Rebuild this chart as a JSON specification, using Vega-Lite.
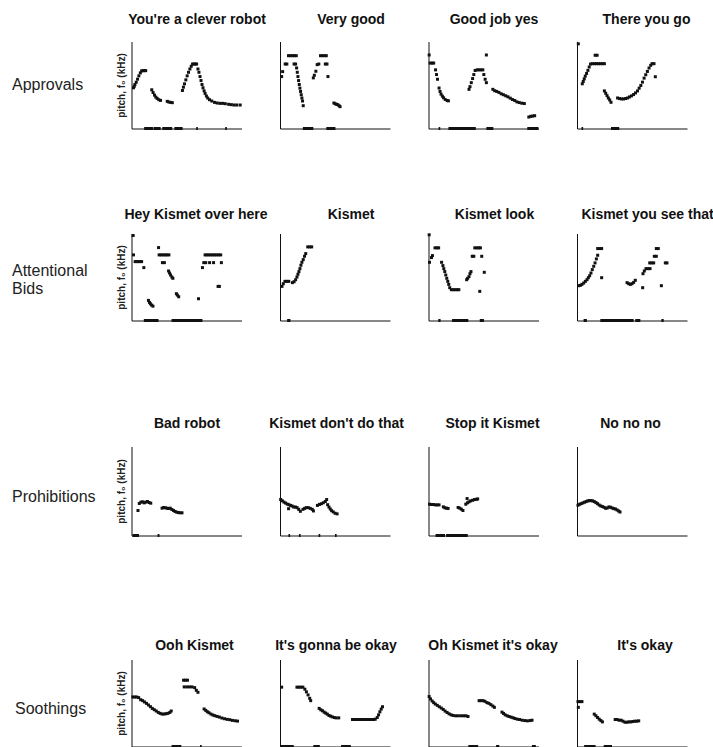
{
"$schema": "https://vega.github.io/schema/vega-lite/v6.json",
"background": "white",
"padding": {"left": 12, "top": 12.5, "right": 5, "bottom": 0},
"bounds": "full",
"spacing": 77,
"config": {
 "font": "Liberation Sans",
 "view": {"stroke": null},
 "axis": {"labels": false, "ticks": false, "grid": false, "domainColor": "#111", "domainWidth": 1, "titleFont": "Liberation Sans", "titleFontSize": 10, "titleFontWeight": "bold", "titleColor": "#222", "titlePadding": 5},
 "title": {"fontSize": 14, "fontWeight": "bold", "color": "#111", "frame": "group", "anchor": "middle", "font": "Liberation Sans"}
},
"datasets": {
"pitch": [
{"p":"a1","x":1.8,"y":46.8},{"p":"a1","x":2.5,"y":48.5},{"p":"a1","x":3.1,"y":50.6},{"p":"a1","x":4.3,"y":53.2},{"p":"a1","x":5.5,"y":56.7},{"p":"a1","x":6.7,"y":60.5},{"p":"a1","x":8.0,"y":63.9},{"p":"a1","x":9.2,"y":66.2},{"p":"a1","x":10.4,"y":66.5},{"p":"a1","x":11.7,"y":66.5},{"p":"a1","x":12.9,"y":66.5},
{"p":"a1","x":18.4,"y":44.5},{"p":"a1","x":19.6,"y":41.4},{"p":"a1","x":20.9,"y":38.4},{"p":"a1","x":22.1,"y":36.1},{"p":"a1","x":23.3,"y":34.6},{"p":"a1","x":24.8,"y":33.1},{"p":"a1","x":26.4,"y":32.3},
{"p":"a1","x":32.5,"y":31.2},{"p":"a1","x":34.0,"y":30.4},{"p":"a1","x":35.6,"y":30.0},{"p":"a1","x":37.1,"y":29.7},
{"p":"a1","x":46.3,"y":43.7},{"p":"a1","x":47.2,"y":47.5},{"p":"a1","x":48.2,"y":51.3},{"p":"a1","x":49.4,"y":55.9},{"p":"a1","x":50.6,"y":60.5},{"p":"a1","x":51.8,"y":64.6},{"p":"a1","x":53.1,"y":68.4},{"p":"a1","x":54.3,"y":71.5},{"p":"a1","x":55.5,"y":74.1},{"p":"a1","x":56.7,"y":74.1},{"p":"a1","x":58.0,"y":74.1},{"p":"a1","x":59.2,"y":74.1},{"p":"a1","x":60.4,"y":68.4},{"p":"a1","x":61.3,"y":64.6},{"p":"a1","x":62.3,"y":59.7},{"p":"a1","x":63.2,"y":55.1},{"p":"a1","x":64.1,"y":50.6},{"p":"a1","x":65.0,"y":46.8},{"p":"a1","x":66.0,"y":43.3},{"p":"a1","x":66.9,"y":40.3},{"p":"a1","x":68.1,"y":37.3},{"p":"a1","x":69.3,"y":35.0},{"p":"a1","x":70.9,"y":33.1},{"p":"a1","x":73.0,"y":31.6},{"p":"a1","x":75.5,"y":30.0},{"p":"a1","x":77.9,"y":29.3},{"p":"a1","x":80.4,"y":28.9},{"p":"a1","x":82.8,"y":28.9},{"p":"a1","x":85.3,"y":28.5},{"p":"a1","x":88.3,"y":27.8},{"p":"a1","x":90.8,"y":27.4},{"p":"a1","x":93.3,"y":27.0},{"p":"a1","x":95.7,"y":27.0},{"p":"a1","x":98.8,"y":27.0},
{"p":"a2","x":1.5,"y":59.7},{"p":"a2","x":2.4,"y":65.4},{"p":"a2","x":4.7,"y":74.1},{"p":"a2","x":6.2,"y":74.1},{"p":"a2","x":7.7,"y":83.7},{"p":"a2","x":9.5,"y":83.7},{"p":"a2","x":11.3,"y":83.7},{"p":"a2","x":13.1,"y":83.7},{"p":"a2","x":14.8,"y":83.7},{"p":"a2","x":12.8,"y":74.1},{"p":"a2","x":14.2,"y":74.1},{"p":"a2","x":15.1,"y":69.6},{"p":"a2","x":15.7,"y":64.6},{"p":"a2","x":16.3,"y":59.7},{"p":"a2","x":16.9,"y":55.1},{"p":"a2","x":17.5,"y":50.6},{"p":"a2","x":18.1,"y":46.4},{"p":"a2","x":18.7,"y":42.6},{"p":"a2","x":19.3,"y":38.8},{"p":"a2","x":19.9,"y":35.0},{"p":"a2","x":20.5,"y":31.6},{"p":"a2","x":21.1,"y":26.2},
{"p":"a2","x":30.3,"y":58.2},{"p":"a2","x":31.2,"y":61.2},{"p":"a2","x":32.6,"y":65.8},{"p":"a2","x":33.8,"y":73.4},{"p":"a2","x":35.3,"y":74.1},{"p":"a2","x":36.8,"y":83.7},{"p":"a2","x":38.6,"y":83.7},{"p":"a2","x":40.4,"y":83.7},{"p":"a2","x":42.1,"y":83.7},{"p":"a2","x":41.2,"y":74.1},{"p":"a2","x":42.7,"y":74.1},{"p":"a2","x":43.6,"y":59.7},
{"p":"a2","x":49.0,"y":29.3},{"p":"a2","x":50.1,"y":28.5},{"p":"a2","x":51.3,"y":27.8},{"p":"a2","x":52.5,"y":27.4},{"p":"a2","x":53.7,"y":26.2},{"p":"a2","x":54.6,"y":25.1},
{"p":"a3","x":0.6,"y":84.5},{"p":"a3","x":1.5,"y":75.2},{"p":"a3","x":3.2,"y":75.2},{"p":"a3","x":4.7,"y":75.2},{"p":"a3","x":6.4,"y":67.4},{"p":"a3","x":7.3,"y":62.0},{"p":"a3","x":8.2,"y":56.6},{"p":"a3","x":9.6,"y":46.5},{"p":"a3","x":10.5,"y":42.6},{"p":"a3","x":11.4,"y":39.5},{"p":"a3","x":12.6,"y":37.2},{"p":"a3","x":13.7,"y":35.3},{"p":"a3","x":15.2,"y":33.3},{"p":"a3","x":17.0,"y":32.2},{"p":"a3","x":18.1,"y":31.8},
{"p":"a3","x":36.8,"y":45.0},{"p":"a3","x":37.7,"y":48.1},{"p":"a3","x":38.9,"y":52.7},{"p":"a3","x":40.1,"y":57.4},{"p":"a3","x":41.2,"y":62.0},{"p":"a3","x":42.4,"y":66.7},{"p":"a3","x":44.2,"y":67.4},{"p":"a3","x":45.9,"y":67.4},{"p":"a3","x":47.7,"y":67.4},{"p":"a3","x":49.4,"y":67.4},{"p":"a3","x":50.3,"y":62.0},{"p":"a3","x":51.5,"y":56.6},{"p":"a3","x":52.6,"y":52.7},{"p":"a3","x":52.6,"y":84.5},
{"p":"a3","x":58.5,"y":45.0},{"p":"a3","x":60.2,"y":43.4},{"p":"a3","x":62.0,"y":42.6},{"p":"a3","x":64.0,"y":41.5},{"p":"a3","x":66.1,"y":39.9},{"p":"a3","x":68.1,"y":38.8},{"p":"a3","x":70.2,"y":37.6},{"p":"a3","x":72.2,"y":36.4},{"p":"a3","x":74.3,"y":34.9},{"p":"a3","x":76.3,"y":33.3},{"p":"a3","x":78.4,"y":32.2},{"p":"a3","x":80.4,"y":30.6},{"p":"a3","x":82.5,"y":29.8},{"p":"a3","x":84.8,"y":29.1},{"p":"a3","x":87.1,"y":28.7},
{"p":"a3","x":91.2,"y":13.2},{"p":"a3","x":93.0,"y":14.0},{"p":"a3","x":94.7,"y":14.3},{"p":"a3","x":96.5,"y":14.7},
{"p":"a4","x":1.2,"y":97.3},{"p":"a4","x":4.8,"y":51.4},{"p":"a4","x":5.7,"y":54.1},{"p":"a4","x":6.6,"y":57.1},{"p":"a4","x":7.5,"y":60.2},{"p":"a4","x":8.7,"y":63.3},{"p":"a4","x":9.9,"y":66.8},{"p":"a4","x":11.1,"y":70.7},{"p":"a4","x":12.3,"y":74.1},{"p":"a4","x":14.1,"y":74.5},{"p":"a4","x":15.9,"y":74.5},{"p":"a4","x":17.7,"y":74.5},{"p":"a4","x":19.5,"y":74.5},{"p":"a4","x":21.3,"y":74.5},{"p":"a4","x":23.1,"y":74.5},{"p":"a4","x":24.9,"y":74.5},{"p":"a4","x":16.5,"y":84.2},{"p":"a4","x":18.3,"y":84.2},
{"p":"a4","x":24.9,"y":43.2},{"p":"a4","x":26.1,"y":40.5},{"p":"a4","x":27.3,"y":37.8},{"p":"a4","x":28.5,"y":35.1},{"p":"a4","x":29.7,"y":32.8},{"p":"a4","x":30.9,"y":30.1},
{"p":"a4","x":36.9,"y":35.1},{"p":"a4","x":38.7,"y":34.4},{"p":"a4","x":40.5,"y":34.0},{"p":"a4","x":42.3,"y":34.0},{"p":"a4","x":44.1,"y":34.4},{"p":"a4","x":46.0,"y":35.1},{"p":"a4","x":47.7,"y":36.3},{"p":"a4","x":49.5,"y":37.5},{"p":"a4","x":51.4,"y":39.0},{"p":"a4","x":53.2,"y":40.9},{"p":"a4","x":55.0,"y":43.2},{"p":"a4","x":56.5,"y":46.3},{"p":"a4","x":58.0,"y":49.4},{"p":"a4","x":59.5,"y":53.3},{"p":"a4","x":61.0,"y":57.9},{"p":"a4","x":62.5,"y":61.8},{"p":"a4","x":64.0,"y":65.6},{"p":"a4","x":65.5,"y":69.5},{"p":"a4","x":67.0,"y":72.6},{"p":"a4","x":68.2,"y":74.5},{"p":"a4","x":70.0,"y":74.5},{"p":"a4","x":71.2,"y":59.5},
{"p":"b1","x":1.5,"y":97.7},{"p":"b1","x":1.8,"y":75.4},{"p":"b1","x":3.3,"y":67.7},{"p":"b1","x":4.7,"y":67.7},{"p":"b1","x":6.2,"y":67.7},{"p":"b1","x":7.7,"y":67.7},{"p":"b1","x":9.2,"y":67.7},{"p":"b1","x":11.2,"y":60.8},
{"p":"b1","x":15.4,"y":23.1},{"p":"b1","x":16.3,"y":20.8},{"p":"b1","x":17.2,"y":19.2},{"p":"b1","x":18.3,"y":17.7},{"p":"b1","x":19.5,"y":16.5},
{"p":"b1","x":24.6,"y":83.8},{"p":"b1","x":25.1,"y":75.4},{"p":"b1","x":26.9,"y":75.4},{"p":"b1","x":28.7,"y":75.4},{"p":"b1","x":30.5,"y":75.4},{"p":"b1","x":32.2,"y":75.4},{"p":"b1","x":34.0,"y":75.4},{"p":"b1","x":28.1,"y":66.5},{"p":"b1","x":29.9,"y":66.5},
{"p":"b1","x":33.7,"y":56.9},{"p":"b1","x":34.6,"y":54.6},{"p":"b1","x":35.5,"y":52.3},{"p":"b1","x":36.7,"y":50.0},{"p":"b1","x":37.6,"y":48.5},
{"p":"b1","x":40.8,"y":30.8},{"p":"b1","x":41.7,"y":29.2},{"p":"b1","x":42.9,"y":27.3},{"p":"b1","x":60.9,"y":25.0},
{"p":"b1","x":64.5,"y":60.8},{"p":"b1","x":65.7,"y":66.5},{"p":"b1","x":67.5,"y":66.5},{"p":"b1","x":71.0,"y":66.5},{"p":"b1","x":74.6,"y":66.5},{"p":"b1","x":81.7,"y":66.5},
{"p":"b1","x":66.9,"y":75.4},{"p":"b1","x":68.6,"y":75.4},{"p":"b1","x":70.4,"y":75.4},{"p":"b1","x":72.2,"y":75.4},{"p":"b1","x":74.0,"y":75.4},{"p":"b1","x":75.7,"y":75.4},{"p":"b1","x":77.5,"y":75.4},{"p":"b1","x":79.3,"y":75.4},{"p":"b1","x":81.1,"y":75.4},{"p":"b1","x":78.7,"y":39.2},{"p":"b1","x":79.9,"y":39.2},
{"p":"b2","x":1.8,"y":39.2},{"p":"b2","x":3.0,"y":42.3},{"p":"b2","x":4.5,"y":45.0},{"p":"b2","x":6.2,"y":45.0},{"p":"b2","x":8.0,"y":45.0},{"p":"b2","x":11.3,"y":43.5},{"p":"b2","x":12.8,"y":44.6},{"p":"b2","x":14.2,"y":46.9},{"p":"b2","x":15.4,"y":50.0},{"p":"b2","x":16.3,"y":53.1},{"p":"b2","x":17.2,"y":56.2},{"p":"b2","x":18.1,"y":59.6},{"p":"b2","x":19.0,"y":63.5},{"p":"b2","x":19.9,"y":66.9},{"p":"b2","x":21.1,"y":70.0},{"p":"b2","x":22.3,"y":73.8},{"p":"b2","x":23.4,"y":76.9},{"p":"b2","x":25.2,"y":84.6},{"p":"b2","x":27.0,"y":84.6},{"p":"b2","x":28.8,"y":84.6},
{"p":"b3","x":0.6,"y":98.5},{"p":"b3","x":0.9,"y":66.9},{"p":"b3","x":2.7,"y":72.3},{"p":"b3","x":3.6,"y":74.6},{"p":"b3","x":5.9,"y":83.5},{"p":"b3","x":7.7,"y":83.5},{"p":"b3","x":9.2,"y":83.5},
{"p":"b3","x":11.9,"y":66.9},{"p":"b3","x":13.1,"y":63.1},{"p":"b3","x":13.9,"y":59.6},{"p":"b3","x":14.8,"y":56.2},{"p":"b3","x":15.7,"y":52.3},{"p":"b3","x":16.6,"y":48.5},{"p":"b3","x":17.5,"y":45.0},{"p":"b3","x":18.4,"y":41.5},{"p":"b3","x":19.3,"y":37.7},{"p":"b3","x":20.8,"y":35.4},{"p":"b3","x":22.6,"y":35.4},{"p":"b3","x":24.3,"y":35.4},{"p":"b3","x":26.1,"y":35.4},{"p":"b3","x":27.6,"y":35.4},
{"p":"b3","x":34.7,"y":46.9},{"p":"b3","x":35.6,"y":48.5},{"p":"b3","x":36.8,"y":50.4},{"p":"b3","x":37.7,"y":53.8},{"p":"b3","x":38.6,"y":56.2},{"p":"b3","x":39.8,"y":73.8},{"p":"b3","x":41.2,"y":73.8},{"p":"b3","x":42.1,"y":83.5},{"p":"b3","x":43.9,"y":83.5},{"p":"b3","x":45.7,"y":83.5},{"p":"b3","x":47.2,"y":83.5},{"p":"b3","x":48.4,"y":73.8},{"p":"b3","x":50.7,"y":55.4},{"p":"b3","x":46.6,"y":33.5},
{"p":"b4","x":1.5,"y":40.0},{"p":"b4","x":3.0,"y":40.4},{"p":"b4","x":4.5,"y":41.5},{"p":"b4","x":6.1,"y":43.1},{"p":"b4","x":7.6,"y":45.0},{"p":"b4","x":9.1,"y":46.9},{"p":"b4","x":10.3,"y":49.2},{"p":"b4","x":11.5,"y":51.5},{"p":"b4","x":12.7,"y":54.6},{"p":"b4","x":13.9,"y":58.5},{"p":"b4","x":15.2,"y":62.3},{"p":"b4","x":16.4,"y":66.2},{"p":"b4","x":17.6,"y":70.8},{"p":"b4","x":18.8,"y":75.0},{"p":"b4","x":18.8,"y":82.7},{"p":"b4","x":20.6,"y":82.7},{"p":"b4","x":22.4,"y":82.7},{"p":"b4","x":22.4,"y":49.2},
{"p":"b4","x":45.5,"y":43.5},{"p":"b4","x":47.0,"y":42.3},{"p":"b4","x":48.5,"y":41.5},{"p":"b4","x":50.0,"y":42.3},{"p":"b4","x":51.5,"y":43.8},{"p":"b4","x":53.0,"y":46.2},{"p":"b4","x":59.7,"y":37.7},
{"p":"b4","x":60.0,"y":53.8},{"p":"b4","x":61.2,"y":56.9},{"p":"b4","x":62.7,"y":59.6},{"p":"b4","x":64.5,"y":59.6},{"p":"b4","x":66.4,"y":59.6},{"p":"b4","x":66.1,"y":66.2},{"p":"b4","x":67.9,"y":66.2},{"p":"b4","x":69.7,"y":66.2},{"p":"b4","x":70.3,"y":73.8},{"p":"b4","x":72.1,"y":73.8},{"p":"b4","x":72.1,"y":82.7},{"p":"b4","x":73.9,"y":82.7},{"p":"b4","x":76.7,"y":40.0},{"p":"b4","x":80.3,"y":66.2},{"p":"b4","x":81.8,"y":66.2},
{"p":"c1","x":5.9,"y":28.1},{"p":"c1","x":7.1,"y":36.0},{"p":"c1","x":8.6,"y":37.5},{"p":"c1","x":10.1,"y":37.8},{"p":"c1","x":11.5,"y":36.7},{"p":"c1","x":13.0,"y":37.5},{"p":"c1","x":14.5,"y":38.2},{"p":"c1","x":16.0,"y":37.1},{"p":"c1","x":17.5,"y":36.3},
{"p":"c1","x":27.8,"y":30.7},{"p":"c1","x":29.3,"y":31.5},{"p":"c1","x":30.8,"y":31.1},{"p":"c1","x":32.2,"y":30.7},{"p":"c1","x":33.7,"y":30.3},{"p":"c1","x":35.2,"y":30.7},{"p":"c1","x":36.7,"y":29.2},{"p":"c1","x":38.2,"y":28.1},{"p":"c1","x":39.6,"y":27.0},{"p":"c1","x":41.1,"y":26.2},{"p":"c1","x":42.6,"y":25.8},{"p":"c1","x":44.1,"y":25.5},{"p":"c1","x":45.9,"y":25.5},
{"p":"c2","x":0.6,"y":40.4},{"p":"c2","x":2.1,"y":39.0},{"p":"c2","x":3.6,"y":37.5},{"p":"c2","x":5.1,"y":36.4},{"p":"c2","x":6.6,"y":35.3},{"p":"c2","x":8.1,"y":34.6},{"p":"c2","x":9.6,"y":33.8},{"p":"c2","x":11.0,"y":33.1},{"p":"c2","x":12.5,"y":32.0},{"p":"c2","x":14.0,"y":32.0},{"p":"c2","x":15.5,"y":31.3},{"p":"c2","x":17.0,"y":29.4},{"p":"c2","x":18.5,"y":27.2},{"p":"c2","x":7.8,"y":30.1},
{"p":"c2","x":20.9,"y":29.4},{"p":"c2","x":22.4,"y":30.5},{"p":"c2","x":23.9,"y":31.3},{"p":"c2","x":25.7,"y":31.3},{"p":"c2","x":27.5,"y":30.5},{"p":"c2","x":29.3,"y":29.4},{"p":"c2","x":30.4,"y":27.6},
{"p":"c2","x":34.0,"y":33.8},{"p":"c2","x":35.8,"y":34.9},{"p":"c2","x":37.6,"y":35.7},{"p":"c2","x":39.4,"y":36.8},{"p":"c2","x":41.2,"y":38.2},{"p":"c2","x":42.4,"y":40.4},{"p":"c2","x":43.3,"y":34.6},{"p":"c2","x":44.5,"y":32.0},{"p":"c2","x":45.7,"y":29.8},{"p":"c2","x":46.9,"y":27.9},{"p":"c2","x":48.4,"y":26.5},{"p":"c2","x":50.1,"y":25.0},{"p":"c2","x":51.9,"y":24.3},
{"p":"c3","x":0.9,"y":35.2},{"p":"c3","x":2.6,"y":34.8},{"p":"c3","x":4.4,"y":34.8},{"p":"c3","x":6.1,"y":34.4},{"p":"c3","x":7.9,"y":34.4},{"p":"c3","x":9.6,"y":34.4},
{"p":"c3","x":13.5,"y":32.2},{"p":"c3","x":14.9,"y":31.1},{"p":"c3","x":16.4,"y":30.7},{"p":"c3","x":17.8,"y":30.4},
{"p":"c3","x":26.9,"y":31.5},{"p":"c3","x":28.4,"y":30.7},{"p":"c3","x":29.8,"y":29.6},{"p":"c3","x":31.3,"y":28.1},
{"p":"c3","x":33.9,"y":35.2},{"p":"c3","x":35.4,"y":36.7},{"p":"c3","x":36.8,"y":37.8},{"p":"c3","x":35.1,"y":41.5},{"p":"c3","x":38.3,"y":38.9},{"p":"c3","x":40.1,"y":39.6},{"p":"c3","x":41.8,"y":40.4},{"p":"c3","x":43.6,"y":40.7},{"p":"c3","x":44.7,"y":41.1},
{"p":"c4","x":0.9,"y":34.0},{"p":"c4","x":2.4,"y":35.1},{"p":"c4","x":3.8,"y":35.8},{"p":"c4","x":5.3,"y":36.6},{"p":"c4","x":6.8,"y":37.4},{"p":"c4","x":8.3,"y":38.1},{"p":"c4","x":9.8,"y":38.9},{"p":"c4","x":11.2,"y":39.2},{"p":"c4","x":12.7,"y":39.2},{"p":"c4","x":14.2,"y":38.9},{"p":"c4","x":15.7,"y":38.1},{"p":"c4","x":17.2,"y":37.0},{"p":"c4","x":18.6,"y":35.8},{"p":"c4","x":20.1,"y":34.3},{"p":"c4","x":21.6,"y":33.2},{"p":"c4","x":23.1,"y":32.5},{"p":"c4","x":24.6,"y":31.7},{"p":"c4","x":26.0,"y":30.6},{"p":"c4","x":27.5,"y":30.9},{"p":"c4","x":29.0,"y":32.1},{"p":"c4","x":30.5,"y":31.7},{"p":"c4","x":32.0,"y":30.9},{"p":"c4","x":33.4,"y":30.2},{"p":"c4","x":34.9,"y":29.8},{"p":"c4","x":36.4,"y":28.7},{"p":"c4","x":37.9,"y":27.5},{"p":"c4","x":39.1,"y":26.4},
{"p":"d1","x":1.2,"y":56.9},{"p":"d1","x":3.0,"y":56.9},{"p":"d1","x":4.7,"y":56.9},{"p":"d1","x":6.5,"y":56.2},{"p":"d1","x":8.3,"y":53.8},{"p":"d1","x":10.1,"y":52.7},{"p":"d1","x":11.8,"y":51.2},{"p":"d1","x":13.6,"y":49.6},{"p":"d1","x":15.4,"y":47.7},{"p":"d1","x":17.2,"y":45.8},{"p":"d1","x":18.9,"y":43.8},{"p":"d1","x":20.7,"y":42.3},{"p":"d1","x":22.5,"y":40.8},{"p":"d1","x":24.3,"y":39.2},{"p":"d1","x":26.0,"y":38.1},{"p":"d1","x":27.8,"y":37.3},{"p":"d1","x":29.6,"y":37.3},{"p":"d1","x":31.4,"y":37.7},{"p":"d1","x":33.1,"y":38.1},{"p":"d1","x":34.9,"y":39.2},{"p":"d1","x":36.1,"y":40.8},
{"p":"d1","x":47.3,"y":76.2},{"p":"d1","x":49.1,"y":76.2},{"p":"d1","x":50.9,"y":76.2},{"p":"d1","x":47.9,"y":68.5},{"p":"d1","x":50.3,"y":68.5},{"p":"d1","x":52.7,"y":68.5},{"p":"d1","x":55.0,"y":68.5},{"p":"d1","x":57.4,"y":67.7},{"p":"d1","x":58.9,"y":64.6},{"p":"d1","x":60.4,"y":62.3},
{"p":"d1","x":66.0,"y":43.1},{"p":"d1","x":67.5,"y":41.5},{"p":"d1","x":68.9,"y":40.0},{"p":"d1","x":70.4,"y":38.8},{"p":"d1","x":72.2,"y":37.3},{"p":"d1","x":74.0,"y":36.2},{"p":"d1","x":75.7,"y":35.4},{"p":"d1","x":77.8,"y":34.6},{"p":"d1","x":79.9,"y":33.8},{"p":"d1","x":82.2,"y":32.7},{"p":"d1","x":84.6,"y":31.9},{"p":"d1","x":87.0,"y":31.2},{"p":"d1","x":89.3,"y":30.8},{"p":"d1","x":91.7,"y":30.0},{"p":"d1","x":94.1,"y":29.6},{"p":"d1","x":96.4,"y":29.2},
{"p":"d2","x":1.5,"y":68.2},{"p":"d2","x":15.4,"y":68.2},{"p":"d2","x":17.2,"y":68.2},{"p":"d2","x":19.0,"y":68.2},{"p":"d2","x":20.8,"y":68.2},{"p":"d2","x":22.6,"y":65.9},{"p":"d2","x":24.0,"y":62.8},{"p":"d2","x":25.5,"y":59.3},{"p":"d2","x":27.0,"y":55.4},{"p":"d2","x":27.9,"y":52.7},
{"p":"d2","x":35.6,"y":43.8},{"p":"d2","x":37.1,"y":42.2},{"p":"d2","x":38.6,"y":41.1},{"p":"d2","x":40.1,"y":39.5},{"p":"d2","x":41.5,"y":38.4},{"p":"d2","x":43.0,"y":37.2},{"p":"d2","x":44.5,"y":35.7},{"p":"d2","x":46.0,"y":34.9},{"p":"d2","x":47.5,"y":34.1},{"p":"d2","x":49.3,"y":33.3},{"p":"d2","x":51.0,"y":32.9},{"p":"d2","x":53.4,"y":32.9},
{"p":"d2","x":65.9,"y":31.0},{"p":"d2","x":67.4,"y":31.0},{"p":"d2","x":68.8,"y":31.0},{"p":"d2","x":70.3,"y":31.0},{"p":"d2","x":71.8,"y":31.0},{"p":"d2","x":73.3,"y":31.0},{"p":"d2","x":74.8,"y":31.0},{"p":"d2","x":76.3,"y":31.0},{"p":"d2","x":77.7,"y":31.0},{"p":"d2","x":79.2,"y":31.0},{"p":"d2","x":80.7,"y":31.0},{"p":"d2","x":82.2,"y":31.0},{"p":"d2","x":83.7,"y":31.0},{"p":"d2","x":85.2,"y":31.0},{"p":"d2","x":86.6,"y":31.4},{"p":"d2","x":88.4,"y":33.3},{"p":"d2","x":89.6,"y":36.4},{"p":"d2","x":90.8,"y":39.9},{"p":"d2","x":92.0,"y":43.0},{"p":"d2","x":93.2,"y":45.7},
{"p":"d3","x":0.6,"y":57.4},{"p":"d3","x":1.8,"y":54.7},{"p":"d3","x":3.3,"y":52.3},{"p":"d3","x":4.7,"y":50.4},{"p":"d3","x":6.2,"y":48.8},{"p":"d3","x":8.0,"y":47.3},{"p":"d3","x":9.8,"y":45.7},{"p":"d3","x":11.6,"y":44.2},{"p":"d3","x":13.4,"y":42.6},{"p":"d3","x":15.1,"y":40.7},{"p":"d3","x":16.9,"y":39.1},{"p":"d3","x":18.7,"y":37.6},{"p":"d3","x":20.5,"y":36.4},{"p":"d3","x":22.3,"y":35.7},{"p":"d3","x":24.6,"y":35.3},{"p":"d3","x":27.0,"y":35.3},{"p":"d3","x":29.4,"y":35.3},{"p":"d3","x":31.8,"y":35.3},{"p":"d3","x":34.1,"y":35.3},{"p":"d3","x":35.9,"y":34.5},
{"p":"d3","x":46.0,"y":52.7},{"p":"d3","x":47.8,"y":52.7},{"p":"d3","x":49.6,"y":52.7},{"p":"d3","x":51.3,"y":51.9},{"p":"d3","x":53.1,"y":50.4},{"p":"d3","x":54.9,"y":49.6},{"p":"d3","x":56.7,"y":48.1},{"p":"d3","x":58.5,"y":46.5},{"p":"d3","x":59.9,"y":45.0},
{"p":"d3","x":66.8,"y":39.5},{"p":"d3","x":68.2,"y":38.0},{"p":"d3","x":69.7,"y":36.4},{"p":"d3","x":71.5,"y":35.3},{"p":"d3","x":73.3,"y":34.5},{"p":"d3","x":75.1,"y":33.7},{"p":"d3","x":76.9,"y":33.0},{"p":"d3","x":78.6,"y":32.2},{"p":"d3","x":80.7,"y":31.4},{"p":"d3","x":82.8,"y":31.0},{"p":"d3","x":85.2,"y":30.2},{"p":"d3","x":87.5,"y":29.8},{"p":"d3","x":89.9,"y":29.5},{"p":"d3","x":92.3,"y":29.8},{"p":"d3","x":94.1,"y":30.2},
{"p":"d4","x":0.9,"y":51.6},{"p":"d4","x":2.7,"y":51.6},{"p":"d4","x":4.5,"y":51.6},{"p":"d4","x":1.2,"y":45.0},
{"p":"d4","x":15.7,"y":37.2},{"p":"d4","x":17.2,"y":35.3},{"p":"d4","x":18.7,"y":33.3},{"p":"d4","x":20.2,"y":31.4},{"p":"d4","x":21.7,"y":29.8},{"p":"d4","x":23.1,"y":28.3},
{"p":"d4","x":34.7,"y":31.0},{"p":"d4","x":36.5,"y":31.0},{"p":"d4","x":38.3,"y":30.2},{"p":"d4","x":40.1,"y":30.2},{"p":"d4","x":41.8,"y":29.1},{"p":"d4","x":43.6,"y":27.9},{"p":"d4","x":45.4,"y":27.9},{"p":"d4","x":47.2,"y":28.3},{"p":"d4","x":49.0,"y":28.3},{"p":"d4","x":50.7,"y":28.7},{"p":"d4","x":52.5,"y":29.1},{"p":"d4","x":54.3,"y":29.1},{"p":"d4","x":56.1,"y":29.5}
],
"voice": [
{"p":"a1","x1":11.5,"x2":19.5},{"p":"a1","x1":20,"x2":26.5},{"p":"a1","x1":28,"x2":37},{"p":"a1","x1":39,"x2":46.5},{"p":"a1","x1":58.8,"x2":60.3},{"p":"a1","x1":85.2,"x2":86.7},
{"p":"a2","x1":20.8,"x2":30.3},{"p":"a2","x1":42.1,"x2":50.4},
{"p":"a3","x1":9.2,"x2":10.7},{"p":"a3","x1":18.1,"x2":43},{"p":"a3","x1":52.6,"x2":59},{"p":"a3","x1":89.8,"x2":100},
{"p":"a4","x1":4.1,"x2":5.6},{"p":"a4","x1":30.9,"x2":38.4},
{"p":"b1","x1":11.2,"x2":24.6},{"p":"b1","x1":36.4,"x2":64.5},
{"p":"b2","x1":6.5,"x2":9.5},
{"p":"b3","x1":8.9,"x2":11},{"p":"b3","x1":21.4,"x2":36.2},{"p":"b3","x1":46.6,"x2":50.4},
{"p":"b4","x1":6,"x2":9},{"p":"b4","x1":21.2,"x2":51.5},{"p":"b4","x1":53,"x2":57.6},{"p":"b4","x1":76.7,"x2":78.8},
{"p":"c1","x1":0.9,"x2":6.8},{"p":"c1","x1":23.7,"x2":25.4},
{"p":"c2","x1":7.7,"x2":9.2},{"p":"c2","x1":17.2,"x2":18.7},{"p":"c2","x1":35.1,"x2":36.6},{"p":"c2","x1":50,"x2":51.5},
{"p":"c3","x1":6.4,"x2":15},{"p":"c3","x1":16,"x2":35.7},
{"p":"d1","x1":36.4,"x2":45.3},{"p":"d1","x1":62.3,"x2":63.8},
{"p":"d2","x1":0.6,"x2":12.5},{"p":"d2","x1":30.3,"x2":36.2},{"p":"d2","x1":55.5,"x2":64.4},
{"p":"d3","x1":36.2,"x2":45.1},{"p":"d3","x1":61.4,"x2":64.4},{"p":"d3","x1":94,"x2":97.6},
{"p":"d4","x1":6.5,"x2":16.9},{"p":"d4","x1":24.3,"x2":31.8}
]
},
"vconcat": [
{"bounds": "flush", "spacing": 38.5, "hconcat": [
 {"width": 80.5, "height": 87, "data": {"values": [{"label": "Approvals"}]}, "mark": {"type": "text", "align": "left", "baseline": "middle", "fontSize": 16, "color": "#222", "font": "Liberation Sans"}, "encoding": {"text": {"field": "label"}, "x": {"value": 0}}},
 {"width": 110, "height": 87, "title": {"text": "You're a clever robot", "dx": 10.5, "offset": 14.5},
  "layer": [
   {"data": {"name": "pitch"}, "transform": [{"filter": "datum.p === 'a1'"}], "mark": {"type": "point", "shape": "square", "filled": true, "size": 9, "color": "#111", "opacity": 1}, "encoding": {"x": {"field": "x", "type": "quantitative", "scale": {"domain": [0, 100], "nice": false}, "axis": {"title": null}}, "y": {"field": "y", "type": "quantitative", "scale": {"domain": [0, 100], "nice": false}, "axis": {"title": "pitch, f₀ (kHz)"}}}},
   {"data": {"name": "voice"}, "transform": [{"filter": "datum.p === 'a1'"}], "mark": {"type": "rule", "strokeWidth": 3, "color": "#111"}, "encoding": {"x": {"field": "x1", "type": "quantitative", "axis": {"title": null}}, "x2": {"field": "x2"}, "y": {"datum": 0}}}
  ]},
 {"width": 110, "height": 87, "title": {"text": "Very good", "dx": 16, "offset": 14.5},
  "layer": [
   {"data": {"name": "pitch"}, "transform": [{"filter": "datum.p === 'a2'"}], "mark": {"type": "point", "shape": "square", "filled": true, "size": 9, "color": "#111", "opacity": 1}, "encoding": {"x": {"field": "x", "type": "quantitative", "scale": {"domain": [0, 100], "nice": false}, "axis": {"title": null}}, "y": {"field": "y", "type": "quantitative", "scale": {"domain": [0, 100], "nice": false}, "axis": {"title": null}}}},
   {"data": {"name": "voice"}, "transform": [{"filter": "datum.p === 'a2'"}], "mark": {"type": "rule", "strokeWidth": 3, "color": "#111"}, "encoding": {"x": {"field": "x1", "type": "quantitative", "axis": {"title": null}}, "x2": {"field": "x2"}, "y": {"datum": 0}}}
  ]},
 {"width": 110, "height": 87, "title": {"text": "Good job yes", "dx": 10.5, "offset": 14.5},
  "layer": [
   {"data": {"name": "pitch"}, "transform": [{"filter": "datum.p === 'a3'"}], "mark": {"type": "point", "shape": "square", "filled": true, "size": 9, "color": "#111", "opacity": 1}, "encoding": {"x": {"field": "x", "type": "quantitative", "scale": {"domain": [0, 100], "nice": false}, "axis": {"title": null}}, "y": {"field": "y", "type": "quantitative", "scale": {"domain": [0, 100], "nice": false}, "axis": {"title": null}}}},
   {"data": {"name": "voice"}, "transform": [{"filter": "datum.p === 'a3'"}], "mark": {"type": "rule", "strokeWidth": 3, "color": "#111"}, "encoding": {"x": {"field": "x1", "type": "quantitative", "axis": {"title": null}}, "x2": {"field": "x2"}, "y": {"datum": 0}}}
  ]},
 {"width": 110, "height": 87, "title": {"text": "There you go", "dx": 14.5, "offset": 14.5},
  "layer": [
   {"data": {"name": "pitch"}, "transform": [{"filter": "datum.p === 'a4'"}], "mark": {"type": "point", "shape": "square", "filled": true, "size": 9, "color": "#111", "opacity": 1}, "encoding": {"x": {"field": "x", "type": "quantitative", "scale": {"domain": [0, 100], "nice": false}, "axis": {"title": null}}, "y": {"field": "y", "type": "quantitative", "scale": {"domain": [0, 100], "nice": false}, "axis": {"title": null}}}},
   {"data": {"name": "voice"}, "transform": [{"filter": "datum.p === 'a4'"}], "mark": {"type": "rule", "strokeWidth": 3, "color": "#111"}, "encoding": {"x": {"field": "x1", "type": "quantitative", "axis": {"title": null}}, "x2": {"field": "x2"}, "y": {"datum": 0}}}
  ]}
]},
{"bounds": "flush", "spacing": 38.5, "hconcat": [
 {"width": 80.5, "height": 87, "data": {"values": [{"label": "Attentional\nBids"}]}, "mark": {"type": "text", "align": "left", "baseline": "middle", "fontSize": 16, "color": "#222", "font": "Liberation Sans", "lineBreak": "\n", "lineHeight": 18, "dy": -6.5}, "encoding": {"text": {"field": "label"}, "x": {"value": 0}}},
 {"width": 110, "height": 87, "title": {"text": "Hey Kismet over here", "dx": 9.5, "offset": 11.5},
  "layer": [
   {"data": {"name": "pitch"}, "transform": [{"filter": "datum.p === 'b1'"}], "mark": {"type": "point", "shape": "square", "filled": true, "size": 9, "color": "#111", "opacity": 1}, "encoding": {"x": {"field": "x", "type": "quantitative", "scale": {"domain": [0, 100], "nice": false}, "axis": {"title": null, "minExtent": 18.5}}, "y": {"field": "y", "type": "quantitative", "scale": {"domain": [0, 100], "nice": false}, "axis": {"title": "pitch, f₀ (kHz)"}}}},
   {"data": {"name": "voice"}, "transform": [{"filter": "datum.p === 'b1'"}], "mark": {"type": "rule", "strokeWidth": 3, "color": "#111"}, "encoding": {"x": {"field": "x1", "type": "quantitative", "axis": {"title": null}}, "x2": {"field": "x2"}, "y": {"datum": 0}}}
  ]},
 {"width": 110, "height": 87, "title": {"text": "Kismet", "dx": 16, "offset": 11.5},
  "layer": [
   {"data": {"name": "pitch"}, "transform": [{"filter": "datum.p === 'b2'"}], "mark": {"type": "point", "shape": "square", "filled": true, "size": 9, "color": "#111", "opacity": 1}, "encoding": {"x": {"field": "x", "type": "quantitative", "scale": {"domain": [0, 100], "nice": false}, "axis": {"title": null, "minExtent": 18.5}}, "y": {"field": "y", "type": "quantitative", "scale": {"domain": [0, 100], "nice": false}, "axis": {"title": null}}}},
   {"data": {"name": "voice"}, "transform": [{"filter": "datum.p === 'b2'"}], "mark": {"type": "rule", "strokeWidth": 3, "color": "#111"}, "encoding": {"x": {"field": "x1", "type": "quantitative", "axis": {"title": null}}, "x2": {"field": "x2"}, "y": {"datum": 0}}}
  ]},
 {"width": 110, "height": 87, "title": {"text": "Kismet look", "dx": 11, "offset": 11.5},
  "layer": [
   {"data": {"name": "pitch"}, "transform": [{"filter": "datum.p === 'b3'"}], "mark": {"type": "point", "shape": "square", "filled": true, "size": 9, "color": "#111", "opacity": 1}, "encoding": {"x": {"field": "x", "type": "quantitative", "scale": {"domain": [0, 100], "nice": false}, "axis": {"title": null, "minExtent": 18.5}}, "y": {"field": "y", "type": "quantitative", "scale": {"domain": [0, 100], "nice": false}, "axis": {"title": null}}}},
   {"data": {"name": "voice"}, "transform": [{"filter": "datum.p === 'b3'"}], "mark": {"type": "rule", "strokeWidth": 3, "color": "#111"}, "encoding": {"x": {"field": "x1", "type": "quantitative", "axis": {"title": null}}, "x2": {"field": "x2"}, "y": {"datum": 0}}}
  ]},
 {"width": 110, "height": 87, "title": {"text": "Kismet you see that", "dx": 15.5, "offset": 11.5},
  "layer": [
   {"data": {"name": "pitch"}, "transform": [{"filter": "datum.p === 'b4'"}], "mark": {"type": "point", "shape": "square", "filled": true, "size": 9, "color": "#111", "opacity": 1}, "encoding": {"x": {"field": "x", "type": "quantitative", "scale": {"domain": [0, 100], "nice": false}, "axis": {"title": null, "minExtent": 18.5}}, "y": {"field": "y", "type": "quantitative", "scale": {"domain": [0, 100], "nice": false}, "axis": {"title": null}}}},
   {"data": {"name": "voice"}, "transform": [{"filter": "datum.p === 'b4'"}], "mark": {"type": "rule", "strokeWidth": 3, "color": "#111"}, "encoding": {"x": {"field": "x1", "type": "quantitative", "axis": {"title": null}}, "x2": {"field": "x2"}, "y": {"datum": 0}}}
  ]}
]},
{"bounds": "flush", "spacing": 38.5, "hconcat": [
 {"width": 80.5, "height": 89, "data": {"values": [{"label": "Prohibitions"}]}, "mark": {"type": "text", "align": "left", "baseline": "middle", "fontSize": 16, "color": "#222", "font": "Liberation Sans", "dy": 5.5}, "encoding": {"text": {"field": "label"}, "x": {"value": 0}}},
 {"width": 110, "height": 89, "title": {"text": "Bad robot", "dx": 0.5, "offset": 15.5},
  "layer": [
   {"data": {"name": "pitch"}, "transform": [{"filter": "datum.p === 'c1'"}], "mark": {"type": "point", "shape": "square", "filled": true, "size": 9, "color": "#111", "opacity": 1}, "encoding": {"x": {"field": "x", "type": "quantitative", "scale": {"domain": [0, 100], "nice": false}, "axis": {"title": null, "minExtent": 25.5}}, "y": {"field": "y", "type": "quantitative", "scale": {"domain": [0, 100], "nice": false}, "axis": {"title": "pitch, f₀ (kHz)"}}}},
   {"data": {"name": "voice"}, "transform": [{"filter": "datum.p === 'c1'"}], "mark": {"type": "rule", "strokeWidth": 3, "color": "#111"}, "encoding": {"x": {"field": "x1", "type": "quantitative", "axis": {"title": null}}, "x2": {"field": "x2"}, "y": {"datum": 0}}}
  ]},
 {"width": 110, "height": 89, "title": {"text": "Kismet don't do that", "dx": 1.5, "offset": 15.5},
  "layer": [
   {"data": {"name": "pitch"}, "transform": [{"filter": "datum.p === 'c2'"}], "mark": {"type": "point", "shape": "square", "filled": true, "size": 9, "color": "#111", "opacity": 1}, "encoding": {"x": {"field": "x", "type": "quantitative", "scale": {"domain": [0, 100], "nice": false}, "axis": {"title": null, "minExtent": 25.5}}, "y": {"field": "y", "type": "quantitative", "scale": {"domain": [0, 100], "nice": false}, "axis": {"title": null}}}},
   {"data": {"name": "voice"}, "transform": [{"filter": "datum.p === 'c2'"}], "mark": {"type": "rule", "strokeWidth": 3, "color": "#111"}, "encoding": {"x": {"field": "x1", "type": "quantitative", "axis": {"title": null}}, "x2": {"field": "x2"}, "y": {"datum": 0}}}
  ]},
 {"width": 110, "height": 89, "title": {"text": "Stop it Kismet", "dx": 9, "offset": 15.5},
  "layer": [
   {"data": {"name": "pitch"}, "transform": [{"filter": "datum.p === 'c3'"}], "mark": {"type": "point", "shape": "square", "filled": true, "size": 9, "color": "#111", "opacity": 1}, "encoding": {"x": {"field": "x", "type": "quantitative", "scale": {"domain": [0, 100], "nice": false}, "axis": {"title": null, "minExtent": 25.5}}, "y": {"field": "y", "type": "quantitative", "scale": {"domain": [0, 100], "nice": false}, "axis": {"title": null}}}},
   {"data": {"name": "voice"}, "transform": [{"filter": "datum.p === 'c3'"}], "mark": {"type": "rule", "strokeWidth": 3, "color": "#111"}, "encoding": {"x": {"field": "x1", "type": "quantitative", "axis": {"title": null}}, "x2": {"field": "x2"}, "y": {"datum": 0}}}
  ]},
 {"width": 110, "height": 89, "title": {"text": "No no no", "dx": -1.5, "offset": 15.5},
  "layer": [
   {"data": {"name": "pitch"}, "transform": [{"filter": "datum.p === 'c4'"}], "mark": {"type": "point", "shape": "square", "filled": true, "size": 9, "color": "#111", "opacity": 1}, "encoding": {"x": {"field": "x", "type": "quantitative", "scale": {"domain": [0, 100], "nice": false}, "axis": {"title": null, "minExtent": 25.5}}, "y": {"field": "y", "type": "quantitative", "scale": {"domain": [0, 100], "nice": false}, "axis": {"title": null}}}}
  ]}
]},
{"bounds": "flush", "spacing": 38.5, "hconcat": [
 {"width": 80.5, "height": 87, "data": {"values": [{"label": "Soothings"}]}, "mark": {"type": "text", "align": "left", "baseline": "middle", "fontSize": 16, "color": "#222", "font": "Liberation Sans", "dy": 5.5, "dx": 3}, "encoding": {"text": {"field": "label"}, "x": {"value": 0}}},
 {"width": 110, "height": 87, "title": {"text": "Ooh Kismet", "dx": 8, "offset": 6.5},
  "layer": [
   {"data": {"name": "pitch"}, "transform": [{"filter": "datum.p === 'd1'"}], "mark": {"type": "point", "shape": "square", "filled": true, "size": 9, "color": "#111", "opacity": 1}, "encoding": {"x": {"field": "x", "type": "quantitative", "scale": {"domain": [0, 100], "nice": false}, "axis": {"title": null}}, "y": {"field": "y", "type": "quantitative", "scale": {"domain": [0, 100], "nice": false}, "axis": {"title": "pitch, f₀ (kHz)"}}}},
   {"data": {"name": "voice"}, "transform": [{"filter": "datum.p === 'd1'"}], "mark": {"type": "rule", "strokeWidth": 3, "color": "#111"}, "encoding": {"x": {"field": "x1", "type": "quantitative", "axis": {"title": null}}, "x2": {"field": "x2"}, "y": {"datum": 0}}}
  ]},
 {"width": 110, "height": 87, "title": {"text": "It's gonna be okay", "dx": 1, "offset": 6.5},
  "layer": [
   {"data": {"name": "pitch"}, "transform": [{"filter": "datum.p === 'd2'"}], "mark": {"type": "point", "shape": "square", "filled": true, "size": 9, "color": "#111", "opacity": 1}, "encoding": {"x": {"field": "x", "type": "quantitative", "scale": {"domain": [0, 100], "nice": false}, "axis": {"title": null}}, "y": {"field": "y", "type": "quantitative", "scale": {"domain": [0, 100], "nice": false}, "axis": {"title": null}}}},
   {"data": {"name": "voice"}, "transform": [{"filter": "datum.p === 'd2'"}], "mark": {"type": "rule", "strokeWidth": 3, "color": "#111"}, "encoding": {"x": {"field": "x1", "type": "quantitative", "axis": {"title": null}}, "x2": {"field": "x2"}, "y": {"datum": 0}}}
  ]},
 {"width": 110, "height": 87, "title": {"text": "Oh Kismet it's okay", "dx": 9.5, "offset": 6.5},
  "layer": [
   {"data": {"name": "pitch"}, "transform": [{"filter": "datum.p === 'd3'"}], "mark": {"type": "point", "shape": "square", "filled": true, "size": 9, "color": "#111", "opacity": 1}, "encoding": {"x": {"field": "x", "type": "quantitative", "scale": {"domain": [0, 100], "nice": false}, "axis": {"title": null}}, "y": {"field": "y", "type": "quantitative", "scale": {"domain": [0, 100], "nice": false}, "axis": {"title": null}}}},
   {"data": {"name": "voice"}, "transform": [{"filter": "datum.p === 'd3'"}], "mark": {"type": "rule", "strokeWidth": 3, "color": "#111"}, "encoding": {"x": {"field": "x1", "type": "quantitative", "axis": {"title": null}}, "x2": {"field": "x2"}, "y": {"datum": 0}}}
  ]},
 {"width": 110, "height": 87, "title": {"text": "It's okay", "dx": 13, "offset": 6.5},
  "layer": [
   {"data": {"name": "pitch"}, "transform": [{"filter": "datum.p === 'd4'"}], "mark": {"type": "point", "shape": "square", "filled": true, "size": 9, "color": "#111", "opacity": 1}, "encoding": {"x": {"field": "x", "type": "quantitative", "scale": {"domain": [0, 100], "nice": false}, "axis": {"title": null}}, "y": {"field": "y", "type": "quantitative", "scale": {"domain": [0, 100], "nice": false}, "axis": {"title": null}}}},
   {"data": {"name": "voice"}, "transform": [{"filter": "datum.p === 'd4'"}], "mark": {"type": "rule", "strokeWidth": 3, "color": "#111"}, "encoding": {"x": {"field": "x1", "type": "quantitative", "axis": {"title": null}}, "x2": {"field": "x2"}, "y": {"datum": 0}}}
  ]}
]}
]
}
